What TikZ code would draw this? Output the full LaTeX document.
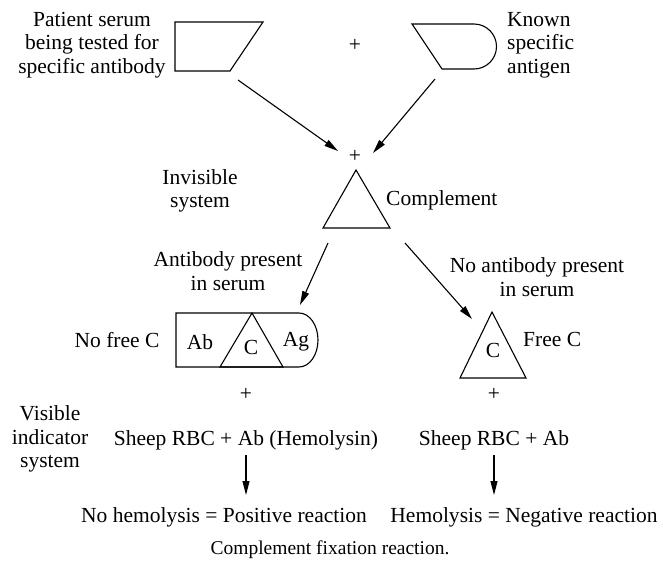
\documentclass[tikz,border=0pt]{standalone}
\usepackage{fontspec}
\setmainfont{Liberation Serif}
\usetikzlibrary{arrows.meta}
\begin{document}
\begin{tikzpicture}[x=1pt,y=-1pt,
  lbl/.style={inner sep=0pt, font=\fontsize{21.5}{23.5}\selectfont, align=center},
  captext/.style={inner sep=0pt, font=\fontsize{19.5}{22}\selectfont},
  shp/.style={line width=1.1pt, line join=miter},
  arr/.style={line width=1.1pt, -{Triangle[length=14pt,width=7pt]}},
  ]
\useasboundingbox (0,0) rectangle (663,565);

% reagents: patient serum (parallelogram) and antigen (delay shape)
\draw[shp] (175,22) -- (263,22) -- (230,71) -- (175,71) -- cycle;
\draw[shp] (412,24) -- (474,24) arc[start angle=-90, end angle=90, radius=22.5] -- (442,69) -- cycle;

% complement
\draw[shp] (356,170) -- (390,228) -- (323,228) -- cycle;

% fixed complex Ab + C + Ag
\draw[shp] (176,313) -- (299,313) arc[start angle=-90, end angle=90, x radius=19, y radius=27] -- (176,367) -- cycle;
\draw[shp] (252,313) -- (283,367) -- (220,367) -- cycle;

% free complement
\draw[shp] (492,312) -- (526,378) -- (460,378) -- cycle;

% labels
\node[lbl] (serum) at (92,45) {Patient serum\\being tested for\\specific antibody};
\node[lbl, align=left, anchor=west] (antigen) at (507,45) {Known\\specific\\antigen};
\node[lbl] (plusA) at (355,45) {+};
\node[lbl] (plusB) at (355,156) {+};
\node[lbl] (invis) at (200,191) {Invisible\\system};
\node[lbl, anchor=west] (compl) at (386,200) {Complement};
\node[lbl] (abpres) at (228,271) {Antibody present\\in serum};
\node[lbl] (noab) at (537,277) {No antibody present\\in serum};
\node[lbl] (nofree) at (117,340) {No free C};
\node[lbl] (ab) at (200,342) {Ab};
\node[lbl] (cfix) at (251,347) {C};
\node[lbl] (ag) at (296,342) {Ag};
\node[lbl] (cfree) at (493,350) {C};
\node[lbl, anchor=west] (freec) at (523,339) {Free C};
\node[lbl] (plusC) at (246,394) {+};
\node[lbl] (plusD) at (494,394) {+};
\node[lbl] (visible) at (50,439) {Visible\\indicator\\system};
\node[lbl] (sheepL) at (246,440) {Sheep RBC + Ab (Hemolysin)};
\node[lbl] (sheepR) at (494,440) {Sheep RBC + Ab};
\node[lbl] (pos) at (224,517) {No hemolysis = Positive reaction};
\node[lbl] (neg) at (524,517) {Hemolysis = Negative reaction};
\node[captext] (caption) at (330,550) {Complement fixation reaction.};

% connector end points
\coordinate (serumOut) at (238,80);
\coordinate (antigenOut) at (435,79);
\coordinate (mixL) at (338,151);
\coordinate (mixR) at (373,153);
\coordinate (complOutL) at (328,243);
\coordinate (complOutR) at (405,243);
\coordinate (complexIn) at (300,305);
\coordinate (freeIn) at (472,319);
\coordinate (sheepLOut) at (246,455);
\coordinate (posIn) at (246,495);
\coordinate (sheepROut) at (494,455);
\coordinate (negIn) at (494,495);

% arrows
\draw[arr] (serumOut) -- (mixL);
\draw[arr] (antigenOut) -- (mixR);
\draw[arr] (complOutL) -- (complexIn);
\draw[arr] (complOutR) -- (freeIn);
\draw[arr] (sheepLOut) -- (posIn);
\draw[arr] (sheepROut) -- (negIn);
\end{tikzpicture}
\end{document}
